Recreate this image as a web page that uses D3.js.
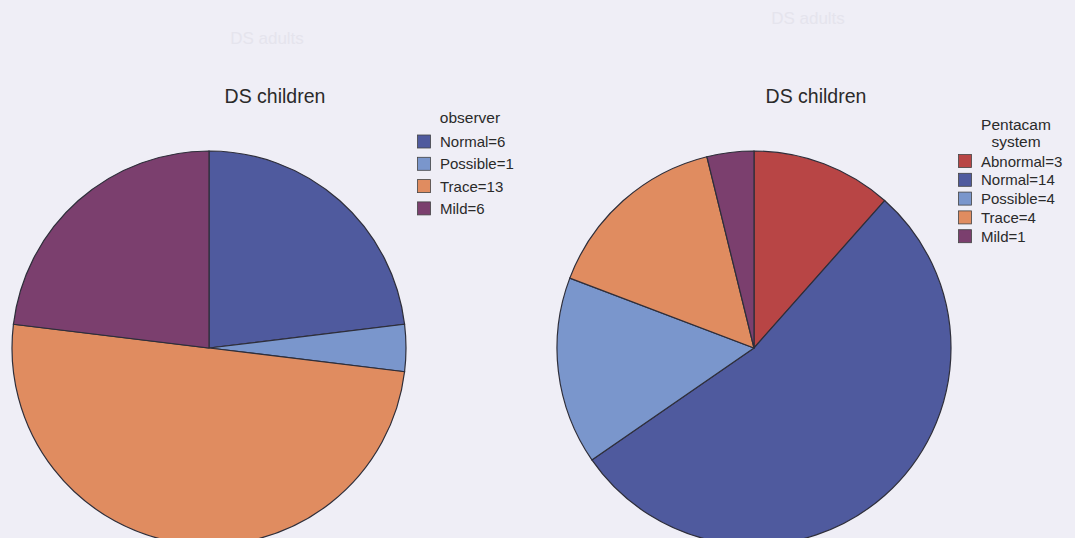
<!DOCTYPE html>
<html>
<head>
<meta charset="utf-8">
<script src="https://cdn.jsdelivr.net/npm/d3@7"></script>
<style>
  html, body { margin: 0; padding: 0; background: #efeef6; }
  svg { display: block; }
</style>
</head>
<body>
<svg id="chart" width="1075" height="538"></svg>
<script>
// data
const chartTitles = ["DS children", "DS children"];
const legendTitles = [["observer"], ["Pentacam", "system"]];
const observerCategories = ["Normal", "Possible", "Trace", "Mild"];
const observerValues = [6, 1, 13, 6];
const pentacamCategories = ["Abnormal", "Normal", "Possible", "Trace", "Mild"];
const pentacamValues = [3, 14, 4, 4, 1];
const ghostTitles = ["DS adults", "DS adults"];

const colorScale = d3.scaleOrdinal()
    .domain(["Abnormal", "Normal", "Possible", "Trace", "Mild"])
    .range(["#b84545", "#4f5a9e", "#7a96cc", "#e08c60", "#7b3f6e"]);

const svg = d3.select('#chart');
const font = 'Liberation Sans, Arial, sans-serif';

const panels = [
    {cx: 209, cy: 348, r: 197, titleX: 275, ghostX: 267, ghostY: 44,
     legendX: 417, legendTitleX: 470, legendTitleY: 123, rowY: 141.5, rowStep: 22.3,
     cats: observerCategories, vals: observerValues},
    {cx: 754, cy: 348, r: 197, titleX: 816, ghostX: 808, ghostY: 24,
     legendX: 958, legendTitleX: 1016, legendTitleY: 130, rowY: 161, rowStep: 18.8,
     cats: pentacamCategories, vals: pentacamValues}
];

panels.forEach((p, i) => {
    const g = svg.append('g');

    // faint bleed-through from the other side of the page
    g.append('text')
        .attr('x', p.ghostX)
        .attr('y', p.ghostY)
        .style('font-family', font)
        .style('font-size', '17px')
        .style('fill', '#e5e4ed')
        .style('text-anchor', 'middle')
        .text(ghostTitles[i]);

    const data = p.cats.map((c, k) => ({cat: c, value: p.vals[k]}));

    const pie = d3.pie()
        .sort(null)
        .value(d => d.value);

    const arc = d3.arc()
        .innerRadius(0)
        .outerRadius(p.r);

    g.append('g')
        .attr('transform', `translate(${p.cx}, ${p.cy})`)
        .selectAll('path')
        .data(pie(data))
        .join('path')
        .attr('d', arc)
        .style('fill', d => colorScale(d.data.cat))
        .style('stroke', '#2e2e3a')
        .style('stroke-width', 1.2);

    g.append('text')
        .attr('x', p.titleX)
        .attr('y', 103)
        .style('font-family', font)
        .style('font-size', '19.5px')
        .style('fill', '#2a2a2a')
        .style('text-anchor', 'middle')
        .text(chartTitles[i]);

    legendTitles[i].forEach((t, k) => {
        g.append('text')
            .attr('x', p.legendTitleX)
            .attr('y', p.legendTitleY + k * 17)
            .style('font-family', font)
            .style('font-size', '15.5px')
            .style('fill', '#2a2a2a')
            .style('text-anchor', 'middle')
            .text(t);
    });

    const rows = g.selectAll('.legendRow')
        .data(data)
        .join('g')
        .classed('legendRow', true)
        .attr('transform', (d, k) => `translate(${p.legendX}, ${p.rowY + k * p.rowStep})`);

    rows.append('rect')
        .attr('x', 0.5)
        .attr('y', -6.5)
        .attr('width', 13)
        .attr('height', 13)
        .style('fill', d => colorScale(d.cat))
        .style('stroke', '#444')
        .style('stroke-width', 0.8);

    rows.append('text')
        .attr('x', 23)
        .attr('y', 5.5)
        .style('font-family', font)
        .style('font-size', '15px')
        .style('fill', '#2a2a2a')
        .text(d => `${d.cat}=${d.value}`);
});
</script>
</body>
</html>
